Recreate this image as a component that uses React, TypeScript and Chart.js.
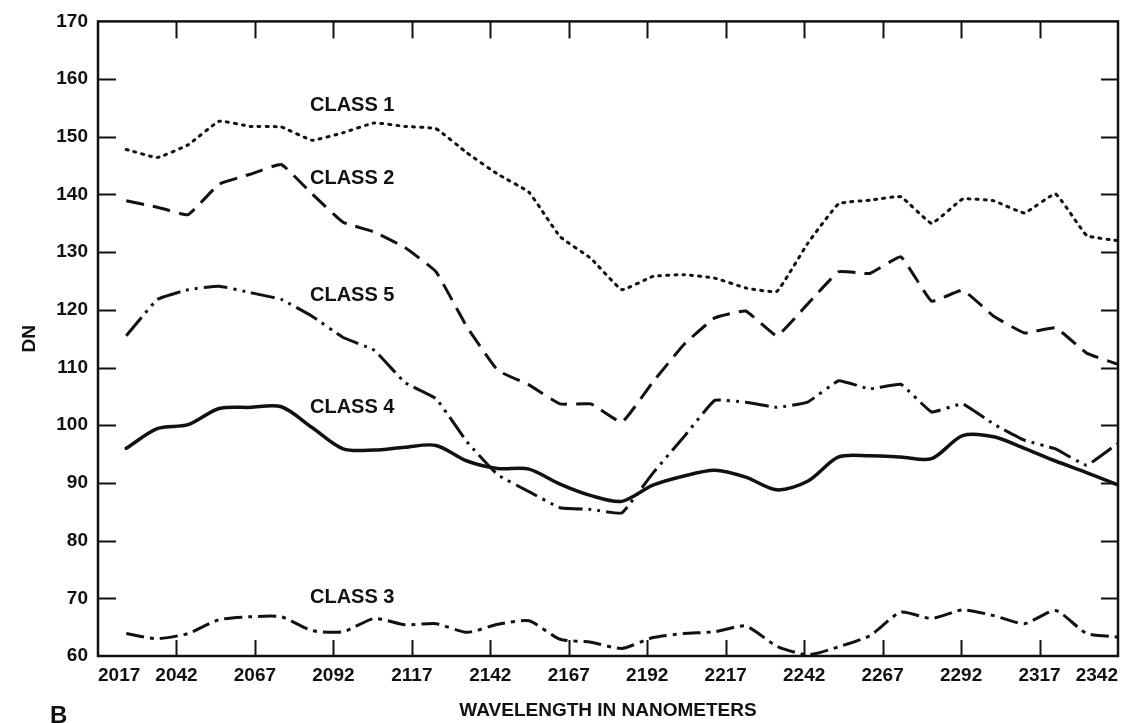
import React, { useEffect, useRef } from "react";
import { Chart, registerables } from "chart.js";

Chart.register(...registerables);

const wavelengths = [2026.0, 2035.9, 2045.7, 2055.6, 2065.5, 2075.4, 2085.2, 2095.1, 2105.0, 2114.8, 2124.7, 2134.6, 2144.4, 2154.3, 2164.2, 2174.1, 2183.9, 2193.8, 2203.7, 2213.5, 2223.4, 2233.3, 2243.1, 2253.0, 2262.9, 2272.8, 2282.6, 2292.5, 2302.4, 2312.2, 2322.1, 2332.0, 2341.8];

const class1 = [147.8, 146.4, 148.6, 152.7, 151.8, 151.7, 149.4, 150.7, 152.4, 151.8, 151.4, 147.2, 143.5, 140.4, 132.7, 128.9, 123.5, 125.8, 126.1, 125.5, 123.8, 123.2, 131.5, 138.4, 139.0, 139.6, 135.0, 139.2, 138.9, 136.8, 140.1, 132.9, 132.0];
const class2 = [138.9, 137.8, 136.5, 141.8, 143.5, 145.2, 140.1, 135.2, 133.5, 130.8, 126.6, 117.0, 109.5, 107.0, 103.7, 103.7, 100.5, 107.5, 114.0, 118.6, 119.8, 115.5, 121.0, 126.6, 126.3, 129.2, 121.5, 123.4, 118.9, 116.0, 116.9, 112.5, 110.6];
const class5 = [115.5, 121.8, 123.5, 124.1, 123.0, 121.8, 118.9, 115.2, 113.0, 107.4, 104.6, 97.1, 91.4, 88.5, 85.7, 85.4, 84.8, 91.7, 98.0, 104.3, 104.0, 103.1, 104.0, 107.7, 106.3, 107.1, 102.3, 103.7, 100.2, 97.4, 95.9, 93.1, 96.8];
const class4 = [96.0, 99.4, 100.1, 102.9, 103.1, 103.2, 99.6, 95.9, 95.7, 96.2, 96.5, 93.8, 92.5, 92.4, 89.8, 87.8, 86.8, 89.6, 91.2, 92.2, 91.0, 88.8, 90.3, 94.5, 94.7, 94.5, 94.2, 98.2, 98.0, 96.0, 93.8, 91.8, 89.7];
const class3 = [63.9, 63.0, 63.9, 66.3, 66.8, 66.8, 64.4, 64.2, 66.5, 65.4, 65.6, 64.1, 65.5, 66.1, 62.9, 62.4, 61.3, 63.2, 63.9, 64.2, 65.2, 61.7, 60.2, 61.6, 63.5, 67.6, 66.5, 68.0, 67.0, 65.6, 67.9, 63.9, 63.3];

const xTicks = [2017, 2042, 2067, 2092, 2117, 2142, 2167, 2192, 2217, 2242, 2267, 2292, 2317, 2342];
const yTicks = [60, 70, 80, 90, 100, 110, 120, 130, 140, 150, 160, 170];

const classNames = ["CLASS 1", "CLASS 2", "CLASS 5", "CLASS 4", "CLASS 3"];
const labelWavelength = [2098, 2098, 2098, 2098, 2098];
const labelDN = [155.5, 142.7, 122.5, 103.0, 70.1];

const FONT = '"Liberation Sans", Arial, Helvetica, sans-serif';
const INK = "#111111";

const toPoints = (vals: number[]) => vals.map((v, i) => ({ x: wavelengths[i], y: v }));

const decor = {
  id: "decor",
  afterDatasetsDraw(chart: any) {
    const { ctx, chartArea: a } = chart;
    const x = chart.scales.x;
    const y = chart.scales.y;
    ctx.save();
    ctx.strokeStyle = INK;
    ctx.lineWidth = 2.5;
    ctx.strokeRect(a.left, a.top, a.right - a.left, a.bottom - a.top);
    ctx.lineWidth = 2;
    const seg = (x1: number, y1: number, x2: number, y2: number) => {
      ctx.beginPath();
      ctx.moveTo(x1, y1);
      ctx.lineTo(x2, y2);
      ctx.stroke();
    };
    xTicks.slice(1, -1).forEach((v) => {
      const px = Math.round(x.getPixelForValue(v)) + 0.5;
      seg(px, a.bottom, px, a.bottom - 16);
      seg(px, a.top, px, a.top + 17);
    });
    yTicks.slice(1, -1).forEach((v) => {
      const py = Math.round(y.getPixelForValue(v)) + 0.5;
      seg(a.left, py, a.left + 18, py);
      seg(a.right, py, a.right - 17, py);
    });
    ctx.fillStyle = INK;
    ctx.font = `bold 20px ${FONT}`;
    ctx.textAlign = "center";
    ctx.textBaseline = "middle";
    classNames.forEach((n, i) => {
      ctx.fillText(n, x.getPixelForValue(labelWavelength[i]), y.getPixelForValue(labelDN[i]));
    });
    ctx.font = `bold 19px ${FONT}`;
    ctx.fillText("WAVELENGTH IN NANOMETERS", (a.left + a.right) / 2, 711);
    ctx.save();
    ctx.translate(30, (a.top + a.bottom) / 2);
    ctx.rotate(-Math.PI / 2);
    ctx.fillText("DN", 0, 0);
    ctx.restore();
    ctx.font = `bold 24px ${FONT}`;
    ctx.textAlign = "left";
    ctx.fillText("B", 50, 716);
    ctx.restore();
  },
};

export default function App() {
  const ref = useRef<HTMLCanvasElement | null>(null);
  useEffect(() => {
    if (!ref.current) return;
    const mk = (label: string, vals: number[], dash: number[], width: number, tension: number, cap: string) => ({
      label,
      data: toPoints(vals),
      borderColor: INK,
      borderWidth: width,
      borderDash: dash,
      borderCapStyle: cap,
      borderJoinStyle: "round",
      pointRadius: 0,
      tension,
      fill: false,
    });
    const chart = new Chart(ref.current, {
      type: "line",
      data: {
        datasets: [
          mk("CLASS 1", class1, [2, 6], 3, 0.1, "round"),
          mk("CLASS 2", class2, [18, 9], 3, 0.1, "butt"),
          mk("CLASS 5", class5, [24, 6, 3, 6, 3, 6], 3, 0.1, "butt"),
          mk("CLASS 4", class4, [], 3.5, 0.3, "round"),
          mk("CLASS 3", class3, [18, 6, 4, 6], 3, 0.2, "butt"),
        ],
      },
      options: {
        animation: false,
        responsive: false,
        events: [],
        layout: { padding: { top: 16, right: 6, left: 0, bottom: 0 } },
        plugins: { legend: { display: false }, tooltip: { enabled: false } },
        scales: {
          x: {
            type: "linear",
            min: 2017,
            max: 2342,
            grid: { display: false, tickLength: 0 },
            border: { display: false },
            afterBuildTicks: (s: any) => {
              s.ticks = xTicks.map((v) => ({ value: v }));
            },
            afterFit: (s: any) => {
              s.height = 67;
            },
            ticks: {
              autoSkip: false,
              maxRotation: 0,
              align: "inner",
              padding: 8,
              color: INK,
              font: { family: FONT, size: 19, weight: "bold" },
              callback: (v: any) => String(v),
            },
          },
          y: {
            type: "linear",
            min: 60,
            max: 170,
            grid: { display: false, tickLength: 0 },
            border: { display: false },
            afterBuildTicks: (s: any) => {
              s.ticks = yTicks.map((v) => ({ value: v }));
            },
            afterFit: (s: any) => {
              s.width = 98;
            },
            ticks: {
              autoSkip: false,
              padding: 10,
              color: INK,
              font: { family: FONT, size: 19, weight: "bold" },
              callback: (v: any) => String(v),
            },
          },
        },
      },
      plugins: [decor],
    } as any);
    return () => chart.destroy();
  }, []);
  return (
    <div style={{ position: "fixed", left: 0, top: 0, width: 1126, height: 723, background: "#fff" }}>
      <canvas ref={ref} width={1126} height={723} style={{ display: "block" }} />
    </div>
  );
}
